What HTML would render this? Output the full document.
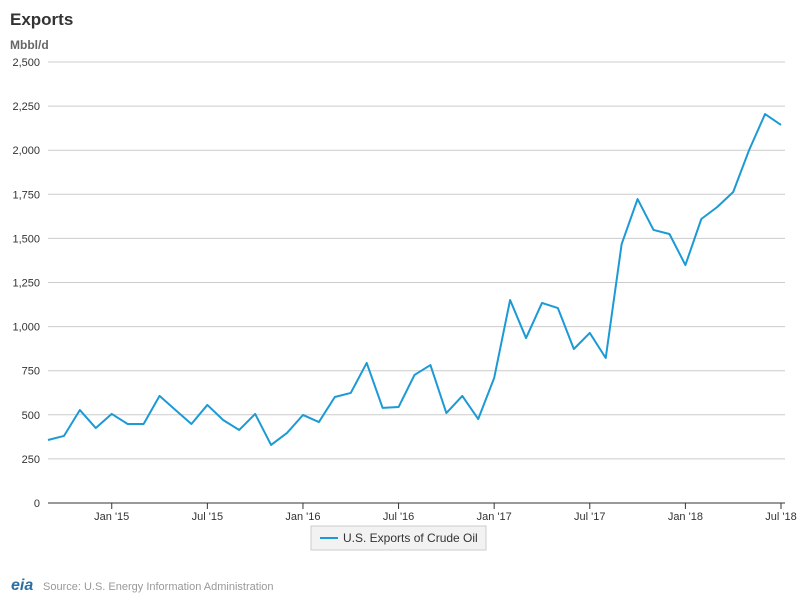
<!DOCTYPE html>
<html><head><meta charset="utf-8"><style>
body{margin:0;width:800px;height:600px;background:#fff;font-family:"Liberation Sans",sans-serif;overflow:hidden}
svg text{font-family:"Liberation Sans",sans-serif}
</style></head><body>
<svg id="c" width="800" height="600">
<text x="10" y="25" font-size="17" font-weight="bold" fill="#333">Exports</text>
<text x="10" y="49" font-size="12" font-weight="bold" fill="#666">Mbbl/d</text>
<g id="grid"></g><g id="xt"></g>
<rect x="311" y="526" width="175" height="24" fill="#f2f2f2" stroke="#ccc"/>
<line x1="320" y1="538" x2="338" y2="538" stroke="#1b9ad6" stroke-width="2"/>
<text x="343" y="542" font-size="12" fill="#333">U.S. Exports of Crude Oil</text>
<text x="11" y="590" font-size="16" font-style="italic" font-weight="bold" fill="#2a6ea6">eia</text>
<text x="43" y="590" font-size="11" fill="#999">Source: U.S. Energy Information Administration</text>
</svg>
<script>
const values=[357,380,527,425,505,448,448,607,527,448,556,470,414,505,329,397,499,459,601,624,794,539,544,726,782,510,607,476,709,1151,935,1134,1105,873,964,822,1468,1723,1548,1525,1349,1610,1678,1763,2001,2205,2143];
const yTicks=[0,250,500,750,1000,1250,1500,1750,2000,2250,2500];
const xLabels=["Jan '15","Jul '15","Jan '16","Jul '16","Jan '17","Jul '17","Jan '18","Jul '18"];
const xLabelIdx=[4,10,16,22,28,34,40,46];
const NS="http://www.w3.org/2000/svg",svg=document.getElementById('c');
const x0=48,x1=781,y0=503,y1=62;
const X=i=>x0+(x1-x0)*i/(values.length-1);
const Y=v=>y0-(y0-y1)*v/2500;
function mk(t,a,p){const e=document.createElementNS(NS,t);for(const k in a)e.setAttribute(k,a[k]);(p||svg).appendChild(e);return e;}
const g=document.getElementById('grid');
yTicks.forEach(v=>{
 const l=mk('line',{x1:x0,x2:785,y1:Y(v),y2:Y(v),stroke:v?'#ccc':'#333','stroke-width':1},g);
 
 
 const t=mk('text',{x:40,y:Y(v)+4,'font-size':11,fill:'#333','text-anchor':'end'},g);
 t.textContent=v.toLocaleString('en-US');
 
 
});
const xt=document.getElementById('xt');
xLabels.forEach((s,k)=>{
 const x=X(xLabelIdx[k]);
 const l=mk('line',{x1:x,x2:x,y1:y0,y2:y0+6,stroke:'#333'},xt);
 
 
 const t=mk('text',{x:x,y:520,'font-size':11,fill:'#333','text-anchor':'middle'},xt);
 t.textContent=s;
 
 
});
const p=mk('polyline',{points:values.map((v,i)=>X(i)+','+Y(v)).join(' '),fill:'none',stroke:'#1b9ad6','stroke-width':2,'stroke-linejoin':'round'});


</script>
</body></html>
